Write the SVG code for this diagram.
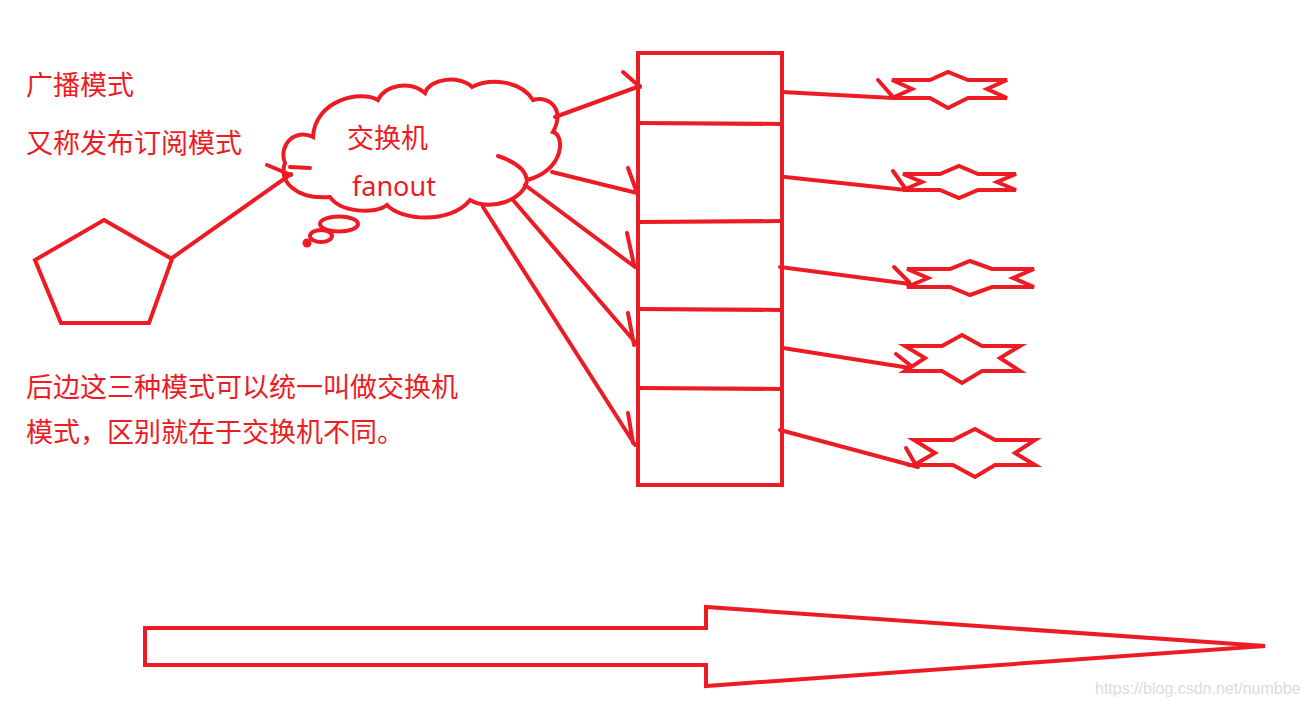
<svg xmlns="http://www.w3.org/2000/svg" width="1307" height="707" viewBox="0 0 1307 707">
<style>
.s{fill:none;stroke:#ED1C24;stroke-width:4;stroke-linejoin:miter;stroke-linecap:round}
.w{fill:#fff;stroke:#ED1C24;stroke-width:4;stroke-linejoin:miter}
.c{stroke:#ED1C24;stroke-width:4;stroke-linecap:round;fill:none}
.t{fill:#ED1C24;font-family:"Noto Sans CJK SC","Noto Sans",sans-serif;font-size:27px}
.f{fill:#ED1C24;font-family:"Noto Sans","Noto Sans CJK SC",sans-serif;font-size:27px}
.wm{fill:#dcdcdc;font-family:"Liberation Sans",Arial,sans-serif;font-size:16px}
</style>
<rect width="1307" height="707" fill="#fff"/>

<g id="labels">
<text class="t" x="26" y="95">广播模式</text>
<text class="t" x="26" y="153">又称发布订阅模式</text>
<text class="t" x="26" y="397">后边这三种模式可以统一叫做交换机</text>
<text class="t" x="26" y="442">模式，区别就在于交换机不同。</text>
</g>

<g id="producer">
<polygon class="s" points="104,220 172,259 149,323 61,323 35,260"/>
</g>

<g id="exchange">
<path class="w" d="M313,137 C295,128 278,145 285,163 C278,180 295,200 330,197 C340,212 375,215 387,205 C400,220 450,225 470,200 C490,212 525,200 527,180 C565,170 565,135 553,132 C565,110 550,95 533,100 C520,80 490,78 472,87 C460,75 430,78 425,93 C410,80 385,85 378,100 C360,90 315,100 313,137 Z"/>
<path class="s" d="M498,156 Q525,165 527,180"/>
<path class="s" d="M290,167 L310,168"/>
<ellipse class="w" cx="339" cy="224" rx="19" ry="7.5"/>
<ellipse class="w" cx="321" cy="236" rx="11" ry="6"/>
<circle cx="307" cy="243" r="4.5" fill="#ED1C24"/>
<text class="t" x="347" y="148">交换机</text>
<text class="f" x="352" y="196">fanout</text>
</g>

<g id="queues">
<rect class="s" x="638" y="53" width="144" height="432"/>
<line class="s" x1="638" y1="123" x2="782" y2="124"/>
<line class="s" x1="638" y1="222" x2="782" y2="221"/>
<line class="s" x1="638" y1="309" x2="782" y2="310"/>
<line class="s" x1="638" y1="388" x2="782" y2="389"/>
</g>

<g id="consumer1"><polygon class="s" points="892,80 930,80 948,72 968,80 1007,80 987,89 1007,98 968,98 948,108 930,98 892,98 912,89"/></g>
<g id="consumer2"><polygon class="s" points="903,174 940,174 959,166 978,174 1016,174 997,182 1016,190 978,190 959,198 940,190 903,190 922,182"/></g>
<g id="consumer3"><polygon class="s" points="907,269 950,269 970,261 992,269 1034,269 1013,278 1034,287 992,287 970,295 950,287 907,287 928,278"/></g>
<g id="consumer4"><polygon class="s" points="905,346 942,346 962,335 982,346 1020,346 1000,358 1020,371 982,371 962,383 942,371 905,371 925,358"/></g>
<g id="consumer5"><polygon class="s" points="914,440 953,440 975,429 995,440 1035,440 1015,453 1035,465 995,465 975,477 953,465 914,465 935,453"/></g>

<g id="connectors">
<path class="c" d="M172,258 L291,174 M267,165 L291,175"/>
<path class="c" d="M555,117 L640,86 M623,72 L640,87"/>
<path class="c" d="M552,172 L637,193 M628,168 L636,190"/>
<path class="c" d="M525,185 L635,267 M627,233 L634,265"/>
<path class="c" d="M513,200 L635,342 M628,313 L634,345"/>
<path class="c" d="M483,207 L635,445 M628,413 L633,443"/>
<path class="c" d="M782,92 L893,98 M878,80 L893,97"/>
<path class="c" d="M785,177 L906,190 M893,171 L905,188"/>
<path class="c" d="M780,267 L910,284 M894,267 L909,282"/>
<path class="c" d="M783,348 L910,368 M896,354 L910,365"/>
<path class="c" d="M780,430 L918,467 M906,448 L917,467"/>
</g>

<g id="big-arrow">
<polygon class="s" points="145,628 706,628 706,607 1265,646 706,686 706,665 145,665"/>
</g>

<text class="wm" x="1095" y="694">https://blog.csdn.net/numbbe</text>
</svg>
